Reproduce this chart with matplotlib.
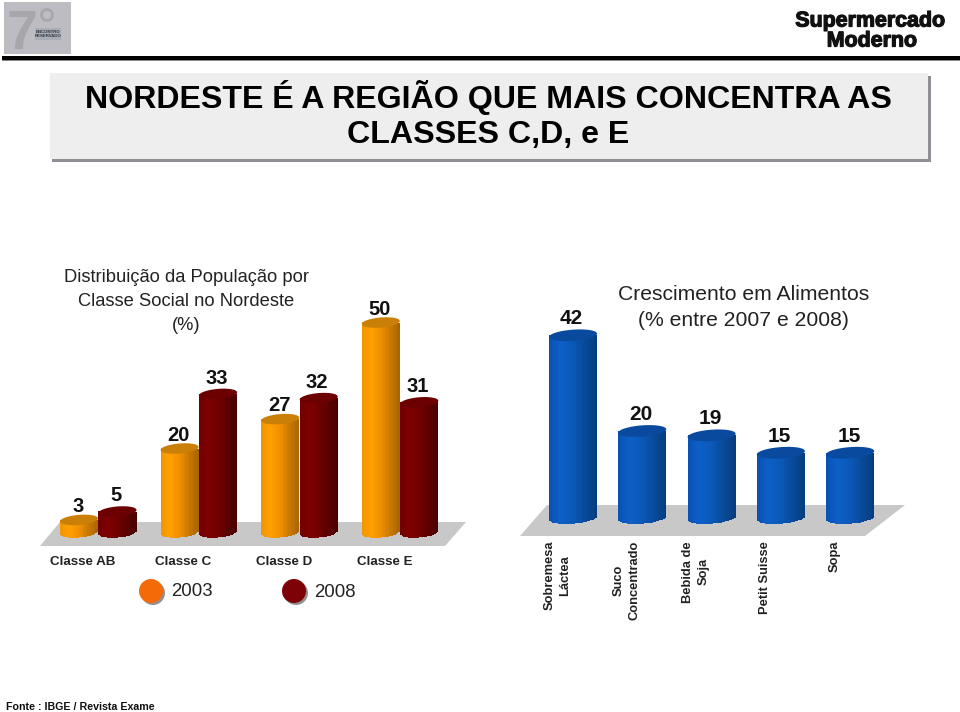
import numpy as np
import matplotlib
matplotlib.use("Agg")
import matplotlib.pyplot as plt
import matplotlib.patheffects as pe
from matplotlib.colors import LinearSegmentedColormap
from matplotlib.patches import Rectangle, Polygon, Circle

plt.rcParams['font.family'] = ['Liberation Sans', 'DejaVu Sans']

classes = ['Classe AB', 'Classe C', 'Classe D', 'Classe E']
v2003 = [3, 20, 27, 50]
v2008 = [5, 33, 32, 31]
foods = ['Sobremesa\nLáctea', 'Suco\nConcentrado', 'Bebida de\nSoja', 'Petit Suisse', 'Sopa']
growth = [42, 20, 19, 15, 15]

W, H = 960, 712
fig = plt.figure(figsize=(W/100, H/100), dpi=100)
bg = fig.add_axes([0, 0, 1, 1])
bg.set_xlim(0, W); bg.set_ylim(H, 0); bg.axis('off')

# header
bg.add_patch(Rectangle((4, 2), 67, 52, fc='#bcbcc2', ec='none'))
bg.text(22, 49, '7', fontsize=40, fontweight='bold', color='#a6a6ab', ha='center', va='baseline')
bg.add_patch(Circle((47, 15), 5.5, fc='none', ec='#a6a6ab', lw=2))
bg.add_patch(Rectangle((35, 28), 26, 12, fc='#a9aeb5', ec='none'))
bg.text(48, 34, 'ENCONTRO\nRESERVADO', fontsize=3.2, fontweight='bold', color='#333344', ha='center', va='center', linespacing=1.0)
bg.add_patch(Rectangle((2, 56), 958, 4, fc='black', ec='none'))
bg.add_patch(Rectangle((2, 60), 958, 1, fc='#888888', ec='none'))
heavy = [pe.withStroke(linewidth=0.9, foreground='#111111')]
bg.text(870.5, 21, 'Supermercado', fontsize=15.4, fontweight='bold', color='#111111', ha='center', va='center', path_effects=heavy)
bg.text(872, 41, 'Moderno', fontsize=15.4, fontweight='bold', color='#111111', ha='center', va='center', path_effects=heavy)

# title box
bg.add_patch(Rectangle((52, 76), 879, 86, fc='#8f8f96', ec='none'))
bg.add_patch(Rectangle((50, 73), 878, 86, fc='#eeeeee', ec='none'))
bg.text(488.5, 97.5, 'NORDESTE É A REGIÃO QUE MAIS CONCENTRA AS', fontsize=23.1, fontweight='bold', color='black', ha='center', va='center')
bg.text(488.5, 135, 'CLASSES C,D, e E', fontsize=23.1, fontweight='bold', color='black', ha='center', va='center')

# captions
for y, s in zip((278, 301, 325), ('Distribuição da População por', 'Classe Social no Nordeste', '(%)')):
    bg.text(186.5, y, s, fontsize=13.2, color='#222222', ha='center', va='center')
for y, s in zip((294, 321), ('Crescimento em Alimentos', '(% entre 2007 e 2008)')):
    bg.text(743.5, y, s, fontsize=15.2, color='#222222', ha='center', va='center')

# floors
bg.add_patch(Polygon([(40, 546), (60, 522), (466, 522), (445, 546)], fc='#c8c8c8', ec='none'))
bg.add_patch(Polygon([(520, 536), (547, 505), (905, 505), (865, 536)], fc='#c8c8c8', ec='none'))


def cylinder(ax, cx, width, value, cmap, topcolor, ry, slope):
    """3-D looking column from 0 to value, in data units of ax."""
    n = 28
    edges = np.linspace(-1, 1, n + 1)
    mids = (edges[:-1] + edges[1:]) / 2
    half = width / 2
    for m in mids:
        low = -ry * np.sqrt(1 - m**2) + slope * m * ry
        ax.bar(cx + m * half, value - low, width=width / n * 1.06, bottom=low,
               color=cmap((m + 1) / 2), lw=0, zorder=3)
    t = np.linspace(0, 2 * np.pi, 80)
    ax.fill(cx + half * np.cos(t), value + ry * np.sin(t) + slope * ry * np.cos(t),
            color=topcolor, lw=0, zorder=4)


orange = LinearSegmentedColormap.from_list('o', ['#f29400', '#ff9f00', '#f09000', '#c87800', '#a86400'])
red = LinearSegmentedColormap.from_list('r', ['#6e0000', '#800000', '#700000', '#5c0000', '#480000'])
blue = LinearSegmentedColormap.from_list('b', ['#0a50b4', '#0c60c8', '#0a58b8', '#084a98', '#063c7c'])

# left chart: x unit = one category, y in percent
x0, step, base, ppu = 98.0, 100.6, 532.5, 4.2
axl = fig.add_axes([0, 0, 1, 1], facecolor='none')
axl.set_xlim((0 - x0) / step, (W - x0) / step)
axl.set_ylim((base - H) / ppu, base / ppu)
axl.axis('off')
bw = 38 / step
for i, (a, b) in enumerate(zip(v2003, v2008)):
    cylinder(axl, i - bw / 2, bw, a, orange, '#c97f08', 1.2, 0.3)
    cylinder(axl, i + bw / 2 + 0.005, bw, b, red, '#6c0000', 1.2, 0.3)
    axl.text(i - bw / 2 - 0.01, a + 1.9, str(a), fontsize=14.5, fontweight='bold', ha='center', va='baseline', color='#111111', zorder=6)
    axl.text(i + bw / 2 - 0.01, b + 2.4, str(b), fontsize=14.5, fontweight='bold', ha='center', va='baseline', color='#111111', zorder=6)
    axl.text(i - 0.15, (base - 562) / ppu, classes[i], fontsize=9.6, fontweight='bold', ha='center', va='center', color='#222222')

# right chart
x0, step, base, ppu = 573.0, 69.3, 518.0, 4.35
axr = fig.add_axes([0, 0, 1, 1], facecolor='none')
axr.set_xlim((0 - x0) / step, (W - x0) / step)
axr.set_ylim((base - H) / ppu, base / ppu)
axr.axis('off')
bw = 48 / step
for i, v in enumerate(growth):
    cylinder(axr, i, bw, v, blue, '#0a4a9e', 1.3, 0.3)
    axr.text(i - 0.02, v + 2.5, str(v), fontsize=15, fontweight='bold', ha='center', va='baseline', color='#111111', zorder=6)
    axr.text(i - 0.225, (base - 541) / ppu, foods[i], fontsize=9.3, fontweight='bold', rotation=90,
             ha='center', va='top', multialignment='center', color='#222222', linespacing=1.45)

# legend
bg.add_patch(Circle((153, 593), 12, fc='#909090', ec='none'))
bg.add_patch(Circle((151, 591), 12, fc='#f56a08', ec='none'))
bg.text(171, 591.5, '2003', fontsize=13.4, color='#222222', ha='left', va='center')
bg.add_patch(Circle((296, 593), 12, fc='#909090', ec='none'))
bg.add_patch(Circle((294, 591), 12, fc='#7c0208', ec='none'))
bg.text(314, 592.5, '2008', fontsize=13.4, color='#222222', ha='left', va='center')

# footer
bg.text(6, 707, 'Fonte : IBGE / Revista Exame', fontsize=7.7, fontweight='bold', color='#111111', ha='left', va='center')

fig.savefig('out.png', dpi=100)
